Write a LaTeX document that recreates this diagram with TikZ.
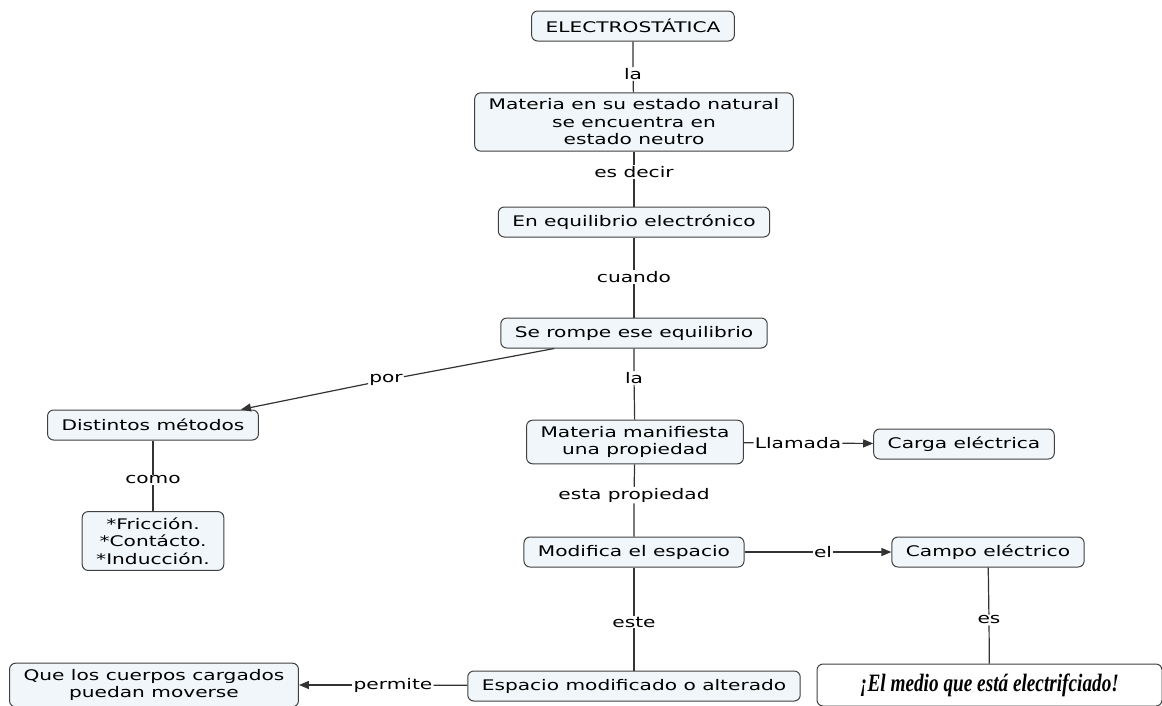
\documentclass[tikz,border=0pt]{standalone}
\usepackage{fontspec}
\setmainfont{DejaVu Sans}[FakeStretch=1.38]
\newfontfamily\medioFont{Liberation Serif}[FakeStretch=0.77]
\usetikzlibrary{arrows.meta}

\begin{document}
\begin{tikzpicture}[x=1pt,y=-1pt]
    	\definecolor{concept area}{RGB}{240,246,250}
    	\colorlet{concept edge}{black!75}
    	\colorlet{link line}{black!80}

    	\tikzset{
    		concept/.style={draw=concept edge, fill=concept area, line width=1pt, rounded corners=6pt,
    			align=center, minimum height=30pt, inner xsep=14pt, inner ysep=6pt,
    			font=\fontsize{14.6}{17.5}\selectfont},
    		linkword/.style={fill=white, inner sep=1pt, font=\fontsize{14.6}{17.5}\selectfont},
    		link/.style={draw=link line, line width=1.2pt},
    		linkarrow/.style={link, -{Triangle[length=10pt,width=8pt]}},
    	}

    	\useasboundingbox (0,0) rectangle (1162,705);

    	% concepts
    	\node[concept] (electro) at (633,26) {ELECTROSTÁTICA};
    	\node[concept] (neutro) at (634,122) {Materia en su estado natural\\ se encuentra en\\ estado neutro};
    	\node[concept] (equil) at (634,222) {En equilibrio electrónico};
    	\node[concept] (rompe) at (634,333) {Se rompe ese equilibrio};
    	\node[concept] (metodos) at (153,425) {Distintos métodos};
    	\node[concept] (tipos) at (153,541) {*Fricción.\\ *Contácto.\\ *Inducción.};
    	\node[concept] (manif) at (635,442) {Materia manifiesta\\ una propiedad};
    	\node[concept] (carga) at (964,444) {Carga eléctrica};
    	\node[concept] (modif) at (634,552) {Modifica el espacio};
    	\node[concept] (campo) at (988,552) {Campo eléctrico};
    	\node[concept] (espacio) at (634,686) {Espacio modificado o alterado};
    	\node[concept] (cuerpos) at (154,685) {Que los cuerpos cargados\\ puedan moverse};
    	\node[concept, fill=white, minimum width=345pt, minimum height=42pt] (medio) at (989.5,685)
    		{\medioFont\fontsize{25}{28}\selectfont\bfseries\itshape ¡El medio que está electrifciado!};

    	% linking words
    	\node[linkword] (la1) at (633,74) {la};
    	\node[linkword] (decir) at (634,172) {es decir};
    	\node[linkword] (cuando) at (634,277) {cuando};
    	\node[linkword] (por) at (386,380) {por};
    	\node[linkword] (la2) at (634,378) {la};
    	\node[linkword] (como) at (153,480) {como};
    	\node[linkword] (llamada) at (798,443) {Llamada};
    	\node[linkword] (propiedad) at (634,495) {esta propiedad};
    	\node[linkword] (el) at (823,552) {el};
    	\node[linkword] (este) at (634,622) {este};
    	\node[linkword] (es) at (989,620) {es};
    	\node[linkword] (permite) at (393,685) {permite};

    	% connectors
    	\draw[link] (electro) -- (la1) -- (neutro);
    	\draw[link] (neutro) -- (decir) -- (equil);
    	\draw[link] (equil) -- (cuando) -- (rompe);
    	\draw[link] (rompe) -- (la2) -- (manif);
    	\draw[link] (rompe.191) -- (por);
    	\draw[linkarrow] (por) -- (metodos.10);
    	\draw[link] (metodos) -- (como) -- (tipos);
    	\draw[link] (manif) -- (llamada);
    	\draw[linkarrow] (llamada) -- (carga);
    	\draw[link] (manif) -- (propiedad) -- (modif);
    	\draw[link] (modif) -- (el);
    	\draw[linkarrow] (el) -- (campo);
    	\draw[link] (modif) -- (este) -- (espacio);
    	\draw[link] (campo) -- (es) -- (medio);
    	\draw[link] (espacio) -- (permite);
    	\draw[linkarrow] (permite) -- (cuerpos);
\end{tikzpicture}
\end{document}
